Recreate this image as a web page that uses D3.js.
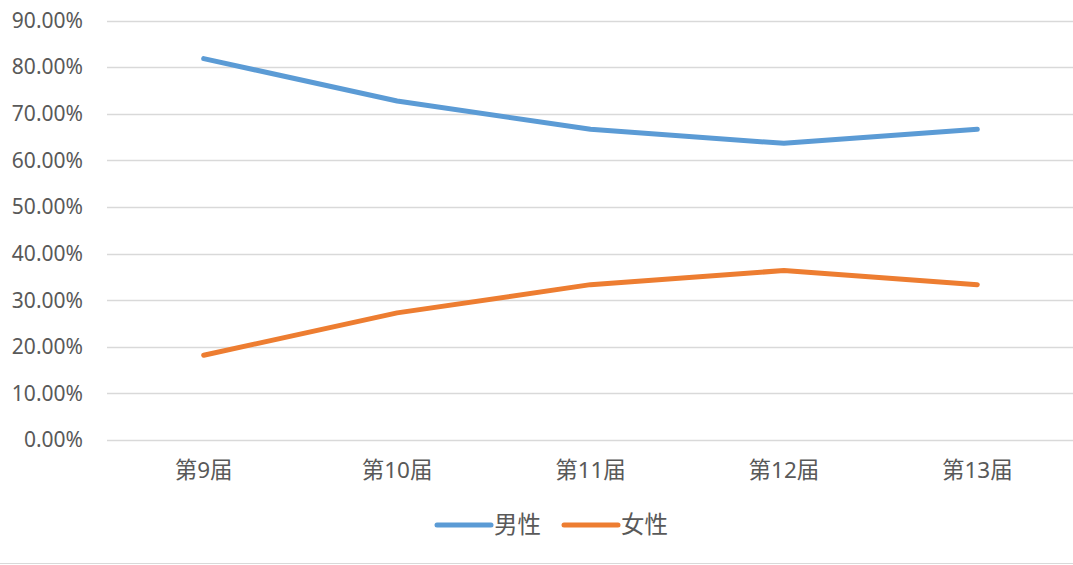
<!DOCTYPE html>
<html><head><meta charset="utf-8">
<script src="https://cdn.jsdelivr.net/npm/d3@7"></script>
<style>body{margin:0;background:#fff}svg{display:block}</style>
</head><body>
<svg id="c" width="1073" height="565"></svg>
<script>
const categories = ["第9届","第10届","第11届","第12届","第13届"];
const male = [0.8182,0.7273,0.6667,0.6364,0.6667];
const female = [0.1818,0.2727,0.3333,0.3636,0.3333];
const yTicks = [0,0.1,0.2,0.3,0.4,0.5,0.6,0.7,0.8,0.9];
const seriesNames = ["男性","女性"];
const colors = ["#5B9BD5","#ED7D31"];

const svg = d3.select("#c");
const font = "'Noto Sans','Noto Sans CJK SC',sans-serif";
const x = d3.scaleBand().domain(categories).range([107,1074]);
const y = d3.scaleLinear().domain([0,0.9]).range([440,20.5]);

svg.append("g").selectAll("line").data(yTicks).join("line")
  .attr("x1",107).attr("x2",1073)
  .attr("y1",d=>Math.round(y(d))+0.5).attr("y2",d=>Math.round(y(d))+0.5)
  .attr("stroke","#d9d9d9").attr("stroke-width",1.5);

svg.append("g").selectAll("text").data(yTicks).join("text")
  .attr("x",83).attr("y",d=>y(d)).attr("dy","0.35em")
  .attr("text-anchor","end").attr("fill","#595959")
  .style("font-family",font).style("font-size","21px")
  .text(d=>d3.format(".2%")(d));

svg.append("g").selectAll("text").data(categories).join("text")
  .attr("x",d=>x(d)+x.bandwidth()/2).attr("y",470).attr("dy","0.35em")
  .attr("text-anchor","middle").attr("fill","#595959")
  .style("font-family",font).style("font-size","22.5px")
  .text(d=>d);

const line = d3.line().x((d,i)=>x(categories[i])+x.bandwidth()/2).y(d=>y(d));
[male,female].forEach((s,k)=>{
  svg.append("path").datum(s).attr("d",line).attr("fill","none")
    .attr("stroke",colors[k]).attr("stroke-width",5).attr("stroke-linecap","round").attr("stroke-linejoin","round");
});

// legend
const lx = [437,564];
seriesNames.forEach((n,k)=>{
  svg.append("line").attr("x1",lx[k]).attr("x2",lx[k]+54).attr("y1",525).attr("y2",525)
    .attr("stroke",colors[k]).attr("stroke-width",5).attr("stroke-linecap","round");
  svg.append("text").attr("x",lx[k]+57).attr("y",525).attr("dy","0.35em")
    .attr("fill","#595959").style("font-family",font).style("font-size","23.5px").text(n);
});

svg.append("line").attr("x1",0).attr("x2",1073).attr("y1",563.5).attr("y2",563.5)
  .attr("stroke","#d9d9d9").attr("stroke-width",1);
</script>
</body></html>
